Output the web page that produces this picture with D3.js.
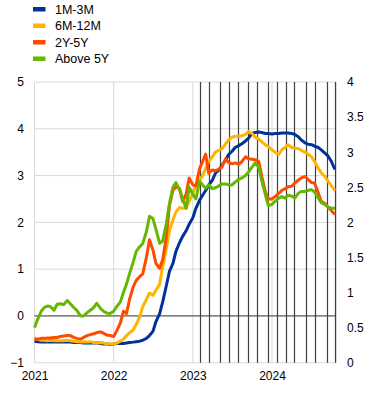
<!DOCTYPE html>
<html>
<head>
<meta charset="utf-8">
<script src="https://cdn.jsdelivr.net/npm/d3@7"></script>
<style>
  body { margin: 0; background: #fff; }
  svg text { font-family: "Liberation Sans", Arial, sans-serif; fill: #000; }
</style>
</head>
<body>
<svg id="chart" width="372" height="406"></svg>
<script>
var seriesNames = ["1M-3M", "6M-12M", "2Y-5Y", "Above 5Y"];
var seriesColors = ["#003299", "#ffb400", "#ff4b00", "#65b800"];

var m1m3m = [-0.54, -0.55, -0.56, -0.56, -0.56, -0.56, -0.56, -0.56, -0.56, -0.56, -0.56, -0.56,
  -0.57, -0.57, -0.57, -0.58, -0.58, -0.58, -0.58, -0.58, -0.59, -0.6, -0.6, -0.61,
  -0.6, -0.59, -0.59, -0.59, -0.58, -0.57, -0.56, -0.55, -0.54, -0.52, -0.48, -0.42,
  -0.33, -0.12, 0.05, 0.3, 0.65, 0.95, 1.12, 1.38, 1.57, 1.7, 1.82, 1.96,
  2.1, 2.3, 2.47, 2.58, 2.68, 2.8, 2.9, 3.05, 3.12, 3.22, 3.33, 3.45,
  3.52, 3.6, 3.64, 3.68, 3.74, 3.8, 3.9, 3.92, 3.93, 3.92, 3.9, 3.9,
  3.89, 3.9, 3.9, 3.91, 3.91, 3.91, 3.9, 3.88, 3.83, 3.76, 3.7, 3.67,
  3.66, 3.63, 3.6, 3.55, 3.48, 3.42, 3.3, 3.13];

var m6m12m = [-0.47, -0.5, -0.52, -0.52, -0.53, -0.52, -0.53, -0.53, -0.53, -0.53, -0.52, -0.53,
  -0.54, -0.55, -0.56, -0.55, -0.56, -0.55, -0.57, -0.58, -0.57, -0.58, -0.6, -0.6,
  -0.6, -0.58, -0.54, -0.5, -0.42, -0.36, -0.3, -0.18, -0.02, 0.2, 0.35, 0.49,
  0.44, 0.55, 0.68, 1.05, 1.45, 1.82, 2.05, 2.22, 2.32, 2.3, 2.3, 2.45,
  2.62, 2.78, 2.9, 3.0, 3.15, 3.3, 3.4, 3.5, 3.54, 3.57, 3.68, 3.76,
  3.82, 3.84, 3.84, 3.85, 3.88, 3.94, 3.9, 3.82, 3.78, 3.72, 3.66, 3.62,
  3.55, 3.5, 3.45, 3.55, 3.6, 3.66, 3.6, 3.58, 3.58, 3.54, 3.5, 3.46,
  3.4, 3.3, 3.16, 3.06, 2.98, 2.88, 2.78, 2.68];

var y2y5y = [-0.5, -0.5, -0.48, -0.48, -0.47, -0.47, -0.46, -0.46, -0.44, -0.43, -0.42, -0.42,
  -0.46, -0.48, -0.5, -0.46, -0.42, -0.4, -0.38, -0.36, -0.34, -0.37, -0.41, -0.42,
  -0.44, -0.32, -0.15, 0.1, 0.05, 0.35, 0.62, 0.76, 0.84, 0.9, 1.25, 1.63,
  1.41, 1.12, 1.02, 1.2, 1.7, 2.35, 2.68, 2.76, 2.72, 2.45, 2.6, 2.95,
  2.8, 2.78, 3.15, 3.3, 3.46, 3.05, 3.12, 3.1, 3.14, 3.18, 3.36, 3.28,
  3.25, 3.27, 3.24, 3.3, 3.4, 3.36, 3.35, 3.34, 3.3, 2.98, 2.66, 2.5,
  2.5, 2.55, 2.62, 2.68, 2.72, 2.76, 2.77, 2.84, 2.9, 2.95, 2.98, 2.92,
  2.85, 2.84, 2.63, 2.45, 2.4, 2.33, 2.25, 2.17];

var above5y = [-0.25, -0.08, 0.1, 0.18, 0.21, 0.2, 0.12, 0.25, 0.26, 0.24, 0.33, 0.26,
  0.18, 0.12, 0.0, 0.0, 0.07, 0.12, 0.18, 0.27, 0.16, 0.1, 0.06, 0.05,
  0.1, 0.2, 0.3, 0.5, 0.68, 0.9, 1.15, 1.38, 1.48, 1.55, 1.8, 2.13,
  2.08, 1.85, 1.55, 1.6, 1.98, 2.4, 2.75, 2.85, 2.7, 2.5, 2.3, 2.75,
  2.6, 2.5, 2.88, 2.8, 2.73, 2.8, 2.72, 2.74, 2.78, 2.82, 2.82, 2.8,
  2.8, 2.86, 2.92, 2.95, 3.0, 3.08, 3.18, 3.27, 3.18, 2.88, 2.6, 2.36,
  2.38, 2.45, 2.52, 2.55, 2.52, 2.58, 2.56, 2.52, 2.62, 2.66, 2.66, 2.68,
  2.7, 2.65, 2.52, 2.42, 2.38, 2.33, 2.3, 2.3];

// EZB-Sitzungen
var meetings = ["2023-02-02", "2023-03-16", "2023-05-04", "2023-06-15", "2023-07-27",
  "2023-09-14", "2023-10-26", "2023-12-14", "2024-01-25", "2024-03-07", "2024-04-11",
  "2024-06-06", "2024-07-18", "2024-09-12", "2024-10-17"];

var leftTicks = [-1, 0, 1, 2, 3, 4, 5];
var rightTicks = [0, 0.5, 1, 1.5, 2, 2.5, 3, 3.5, 4];
var yearTicks = ["2021", "2022", "2023", "2024"];

// Datumsachse: 1. und 15. jedes Monats
var dates = [];
for (var yr = 2021; yr <= 2024; yr++) {
    for (var mo = 0; mo < 12; mo++) {
        if (dates.length >= m1m3m.length) break;
        dates.push(new Date(yr, mo, 1));
        if (dates.length >= m1m3m.length) break;
        dates.push(new Date(yr, mo, 15));
    }
}
dates[dates.length - 1] = new Date(2024, 9, 17);

var allSeries = [m1m3m, m6m12m, y2y5y, above5y];
var parse = d3.timeParse("%Y-%m-%d");

var svg = d3.select("#chart");
var pLeft = 34.5, pRight = 336, pTop = 82, pBottom = 362.7;

var x = d3.scaleTime()
    .domain([new Date(2021, 0, 1), new Date(2024, 9, 22)])
    .range([pLeft, pRight]);
var y = d3.scaleLinear().domain([-1, 5]).range([pBottom, pTop]);
var y2 = d3.scaleLinear().domain([0, 4]).range([pBottom, pTop]);

// Gitter
svg.append("g").selectAll("line")
    .data(leftTicks)
    .enter().append("line")
    .attr("x1", pLeft).attr("x2", pRight)
    .attr("y1", function(d) { return y(d); })
    .attr("y2", function(d) { return y(d); })
    .attr("stroke", "#d9d9d9").attr("stroke-width", 1);

svg.append("g").selectAll("line")
    .data(yearTicks)
    .enter().append("line")
    .attr("x1", function(d) { return x(new Date(+d, 0, 1)); })
    .attr("x2", function(d) { return x(new Date(+d, 0, 1)); })
    .attr("y1", pTop).attr("y2", pBottom)
    .attr("stroke", "#d9d9d9").attr("stroke-width", 1);

svg.append("line")
    .attr("x1", pRight).attr("x2", pRight)
    .attr("y1", pTop).attr("y2", pBottom)
    .attr("stroke", "#d9d9d9");

// Sitzungslinien
svg.append("g").selectAll("line")
    .data(meetings)
    .enter().append("line")
    .attr("x1", function(d) { return Math.round(x(parse(d))) + 0.5; })
    .attr("x2", function(d) { return Math.round(x(parse(d))) + 0.5; })
    .attr("y1", pTop).attr("y2", pBottom)
    .attr("stroke", "#404040").attr("stroke-width", 1.2);

// Nulllinie
svg.append("line")
    .attr("x1", pLeft).attr("x2", pRight)
    .attr("y1", y(0)).attr("y2", y(0))
    .attr("stroke", "#404040").attr("stroke-width", 1);

// Linien
var line = d3.line()
    .x(function(d, i) { return x(dates[i]); })
    .y(function(d) { return y(d); });

svg.append("g").selectAll("path")
    .data(allSeries)
    .enter().append("path")
    .attr("d", line)
    .attr("fill", "none")
    .attr("stroke", function(d, i) { return seriesColors[i]; })
    .attr("stroke-width", 3)
    .attr("stroke-linejoin", "round");

// Achsen
var axL = svg.append("g")
    .attr("transform", "translate(" + (pLeft - 10.5) + ",0)")
    .call(d3.axisLeft(y).tickValues(leftTicks).tickSize(0).tickPadding(0)
        .tickFormat(d3.format("d")));
var axR = svg.append("g")
    .attr("transform", "translate(" + (pRight + 11) + ",0)")
    .call(d3.axisRight(y2).tickValues(rightTicks).tickSize(0).tickPadding(0)
        .tickFormat(d3.format("")));
var axB = svg.append("g")
    .attr("transform", "translate(0," + (pBottom + 9) + ")")
    .call(d3.axisBottom(x).tickValues(yearTicks.map(function(d) { return new Date(+d, 0, 1); }))
        .tickSize(0).tickPadding(0).tickFormat(d3.timeFormat("%Y")));

[axL, axR, axB].forEach(function(a) {
    a.select(".domain").remove();
    a.selectAll("text").style("font-size", "12px")
        .style("font-family", "'Liberation Sans', Arial, sans-serif").attr("fill", "#000");
});

// Legende
var leg = svg.append("g").selectAll("g")
    .data(seriesNames)
    .enter().append("g")
    .attr("transform", function(d, i) { return "translate(33," + (9 + i * 16.5) + ")"; });
leg.append("rect")
    .attr("x", 0).attr("y", -2).attr("width", 12.5).attr("height", 4.5)
    .attr("fill", function(d, i) { return seriesColors[i]; });
leg.append("text")
    .attr("x", 22).attr("y", 4.5)
    .style("font-size", "12.5px")
    .text(function(d) { return d; });
</script>
</body>
</html>
